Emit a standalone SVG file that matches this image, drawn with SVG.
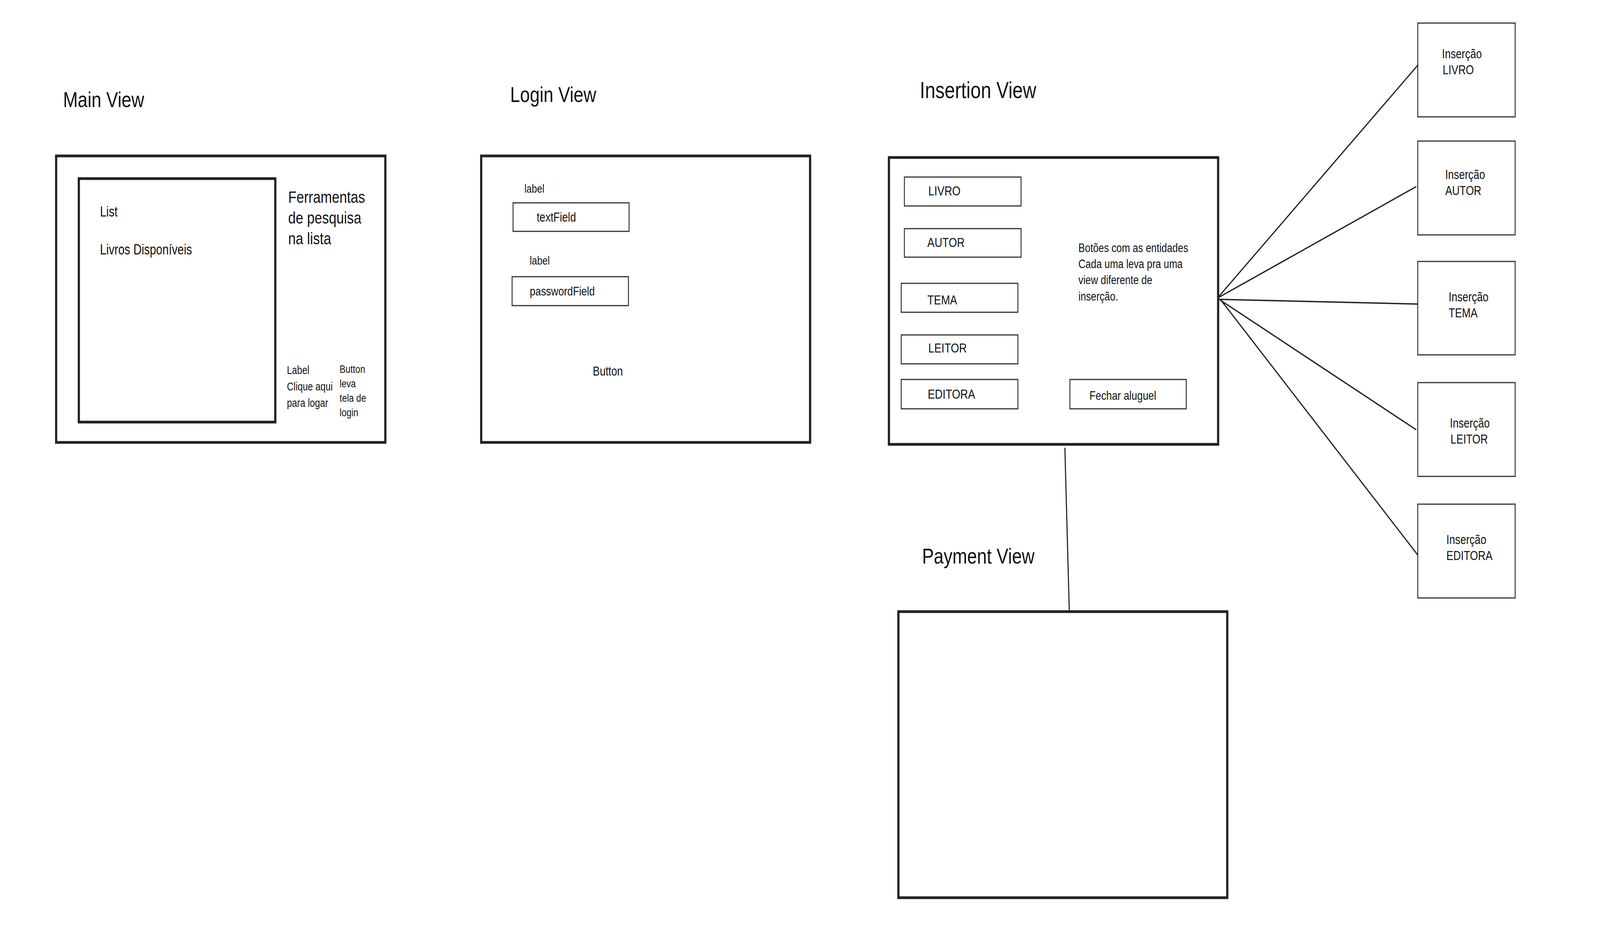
<svg xmlns="http://www.w3.org/2000/svg" width="5074" height="2395" viewBox="0 0 5074 2395" preserveAspectRatio="none">
<style>
svg{width:100vw;height:100vh}
text{font-family:"Liberation Sans","Noto Sans",sans-serif;fill:#111}
.frame{fill:none;stroke:#222;stroke-width:7}
.box{fill:none;stroke:#333;stroke-width:3}
.title{font-size:56px}
.conn{stroke:#222;stroke-width:3.5;fill:none;stroke-linecap:round}
</style>
<rect width="5074" height="2395" fill="#fff"/>

<g id="main-view">
<text class="title" x="200" y="274">Main View</text>
<rect class="frame" x="178" y="399" width="1044" height="733"/>
<rect class="frame" x="250" y="457" width="623" height="623"/>
<text x="317" y="554" font-size="36">List</text>
<text x="317" y="651" font-size="36">Livros Disponíveis</text>
<text font-size="43"><tspan x="914" y="519">Ferramentas</tspan><tspan x="914" y="572">de pesquisa</tspan><tspan x="914" y="625">na lista</tspan></text>
<text font-size="29"><tspan x="910" y="957">Label</tspan><tspan x="910" y="999">Clique aqui</tspan><tspan x="910" y="1041">para logar</tspan></text>
<text font-size="28"><tspan x="1077" y="954">Button</tspan><tspan x="1077" y="991">leva</tspan><tspan x="1077" y="1028">tela de</tspan><tspan x="1077" y="1065">login</tspan></text>
</g>

<g id="login-view">
<text class="title" x="1618" y="261">Login View</text>
<rect class="frame" x="1526" y="399" width="1043" height="733"/>
<text x="1663" y="493" font-size="30">label</text>
<rect class="box" x="1627" y="519" width="368" height="73"/>
<text x="1702" y="567" font-size="33">textField</text>
<text x="1680" y="677" font-size="30">label</text>
<rect class="box" x="1624" y="708" width="369" height="74"/>
<text x="1680" y="756" font-size="32">passwordField</text>
<text x="1880" y="961" font-size="33">Button</text>
</g>

<g id="insertion-view">
<text x="2917" y="251" style="font-size:59px">Insertion View</text>
<rect class="frame" x="2819" y="403" width="1044" height="734"/>
<rect class="box" x="2868" y="453" width="370" height="74"/>
<text x="2944" y="500" font-size="34">LIVRO</text>
<rect class="box" x="2868" y="585" width="370" height="73"/>
<text x="2941" y="632" font-size="34">AUTOR</text>
<rect class="box" x="2858" y="725" width="370" height="74"/>
<text x="2941" y="779" font-size="34">TEMA</text>
<rect class="box" x="2858" y="857" width="370" height="74"/>
<text x="2944" y="902" font-size="34">LEITOR</text>
<rect class="box" x="2858" y="971" width="370" height="75"/>
<text x="2942" y="1020" font-size="34">EDITORA</text>
<rect class="box" x="3393" y="971" width="369" height="75"/>
<text x="3455" y="1023" font-size="32">Fechar aluguel</text>
<text font-size="31"><tspan x="3420" y="645">Botões com as entidades</tspan><tspan x="3420" y="686">Cada uma leva pra uma</tspan><tspan x="3420" y="727">view diferente de</tspan><tspan x="3420" y="769">inserção.</tspan></text>
</g>

<g id="insercao-livro">
<rect class="box" x="4496" y="59" width="309" height="240"/>
<text font-size="33"><tspan x="4573" y="149">Inserção</tspan><tspan x="4575" y="190">LIVRO</tspan></text>
</g>
<g id="insercao-autor">
<rect class="box" x="4496" y="361" width="309" height="240"/>
<text font-size="33"><tspan x="4583" y="458">Inserção</tspan><tspan x="4583" y="499">AUTOR</tspan></text>
</g>
<g id="insercao-tema">
<rect class="box" x="4496" y="669" width="309" height="239"/>
<text font-size="33"><tspan x="4594" y="771">Inserção</tspan><tspan x="4594" y="812">TEMA</tspan></text>
</g>
<g id="insercao-leitor">
<rect class="box" x="4496" y="979" width="309" height="240"/>
<text font-size="33"><tspan x="4598" y="1094">Inserção</tspan><tspan x="4600" y="1135">LEITOR</tspan></text>
</g>
<g id="insercao-editora">
<rect class="box" x="4496" y="1290" width="309" height="240"/>
<text font-size="33"><tspan x="4587" y="1392">Inserção</tspan><tspan x="4587" y="1433">EDITORA</tspan></text>
</g>

<g id="payment-view">
<text class="title" x="2924" y="1442">Payment View</text>
<rect class="frame" x="2849" y="1565" width="1043" height="732"/>
</g>

<g id="connectors">
<line class="conn" x1="3867" y1="757" x2="4496" y2="167"/>
<line class="conn" x1="3867" y1="760" x2="4490" y2="478"/>
<line class="conn" x1="3866" y1="766" x2="4496" y2="778"/>
<line class="conn" x1="3870" y1="768" x2="4490" y2="1099"/>
<line class="conn" x1="3872" y1="768" x2="4496" y2="1420"/>
<line class="conn" x1="3377" y1="1147" x2="3391" y2="1563"/>
</g>
</svg>
